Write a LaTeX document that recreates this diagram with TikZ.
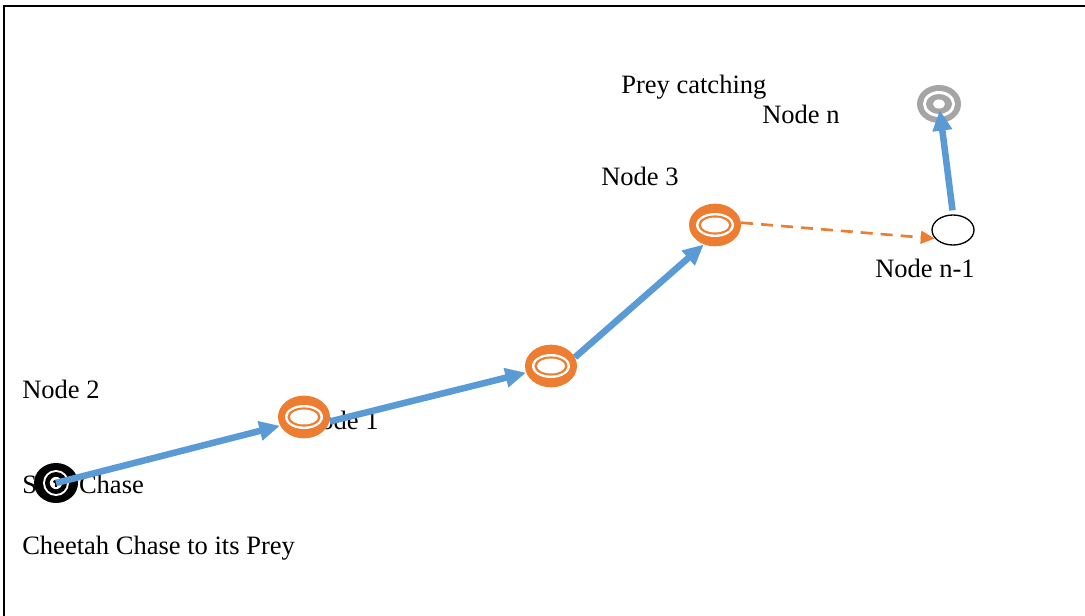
\documentclass[tikz,border=0pt]{standalone}
\usepackage{fontspec}
\setmainfont{Liberation Serif}
\usetikzlibrary{arrows.meta,shapes.geometric}
\definecolor{corange}{HTML}{ED7D31}
\definecolor{cblue}{HTML}{5B9BD5}
\definecolor{cgray}{HTML}{A5A5A5}
\tikzset{
  lbl/.style={anchor=base west, inner sep=0pt, font=\fontsize{19.9}{23}\selectfont},
  orangering/.style={ellipse, inner sep=0pt, fill=corange, minimum width=39pt, minimum height=32pt,
    path picture={
      \fill[white] (path picture bounding box.center) ellipse [x radius=14.25pt, y radius=9pt];
      \fill[corange] (path picture bounding box.center) ellipse [x radius=12.4pt, y radius=7.2pt];
      \fill[white] (path picture bounding box.center) ellipse [x radius=10.5pt, y radius=5.6pt];
    }},
  grayring/.style={ellipse, inner sep=0pt, fill=cgray, minimum width=33pt, minimum height=28.5pt,
    path picture={
      \fill[white] (path picture bounding box.center) ellipse [x radius=12pt, y radius=9.75pt];
      \fill[cgray] (path picture bounding box.center) ellipse [x radius=9.75pt, y radius=7.5pt];
      \fill[white] (path picture bounding box.center) ellipse [x radius=4.5pt, y radius=3.4pt];
    }},
  startring/.style={ellipse, inner sep=0pt, fill=black, minimum width=33pt, minimum height=30pt,
    path picture={
      \fill[white] (path picture bounding box.center) circle [radius=9.75pt];
      \fill[black] (path picture bounding box.center) circle [radius=8.25pt];
      \fill[white] (path picture bounding box.center) circle [radius=4.6pt];
      \fill[black] ([xshift=-0.6pt,yshift=-3pt]path picture bounding box.center) rectangle ++(1.2pt,4pt);
      \fill[black] ([yshift=1pt]path picture bounding box.center) ellipse [x radius=2.2pt, y radius=1.4pt];
    }},
  plainring/.style={ellipse, inner sep=0pt, draw=black, line width=1pt, fill=white, minimum width=31.5pt, minimum height=22.5pt},
  chase/.style={cblue, line width=4.9pt, -{Triangle[length=15.5pt,width=14pt]}},
  dashchase/.style={corange, line width=2pt, dash pattern=on 9pt off 6pt, -{Triangle[length=10.5pt,width=9.5pt]}},
  frameline/.style={line width=1.6pt, black}
}
\begin{document}
\begin{tikzpicture}[x=0.75pt, y=-0.75pt]
\useasboundingbox (0,0) rectangle (1085,616);
% frame
\coordinate (fb) at (4,616);
\coordinate (fc) at (4,6);
\coordinate (fr) at (1085,6);
\draw[frameline] (fb) -- (fc) -- (fr);
% labels
\node[lbl] (tprey) at (621,94) {Prey catching};
\node[lbl] (tnn) at (762,124) {Node n};
\node[lbl] (tn3) at (601,186) {Node 3};
\node[lbl] (tnm1) at (875,278) {Node n-1};
\node[lbl] (tn2) at (22,399) {Node 2};
\node[lbl] (tn1) at (301,430) {Node 1};
\node[lbl] (tstart) at (22,493) {Start Chase};
\node[lbl] (ttitle) at (22,554) {Cheetah Chase to its Prey};
% nodes
\node[startring] (s) at (56,483) {};
\node[orangering] (n1) at (304,417) {};
\node[orangering] (n2) at (551,366) {};
\node[orangering] (n3) at (715,225) {};
\node[plainring] (nm1) at (953,230) {};
\node[grayring] (nn) at (939,104) {};
% connectors
\draw[chase] (s.center) -- (n1.200);
\draw[chase] (n1.-10) -- (n2.195);
\draw[chase] (n2.20) -- (n3.240);
\draw[dashchase] (n3.5) -- (nm1.205);
\draw[chase, shorten <=3pt, shorten >=4.5pt] (nm1.north) -- (nn.center);
\end{tikzpicture}
\end{document}
